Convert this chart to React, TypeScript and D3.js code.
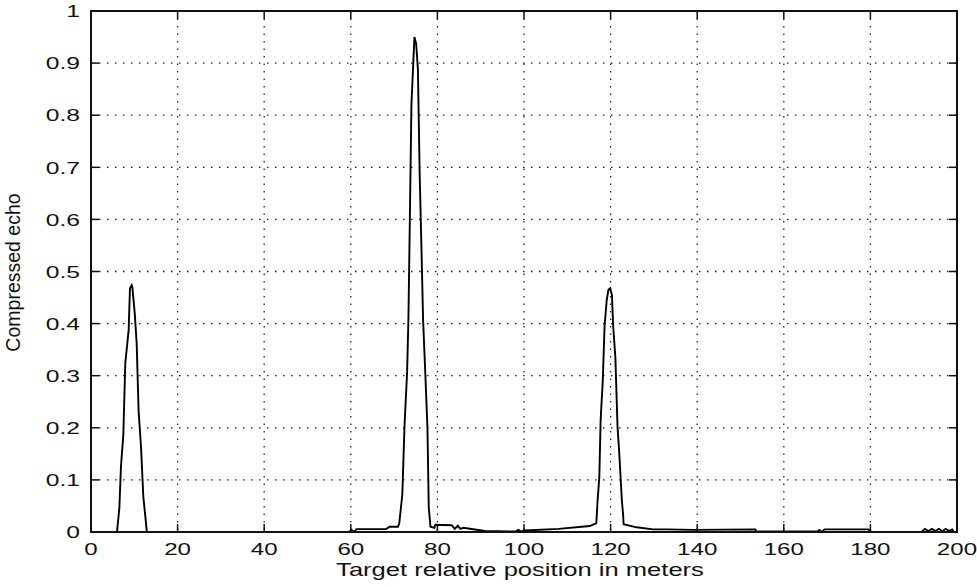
import React from "react";
import * as d3 from "d3";

// ---- data ----
const positions = [
  0, 6.0, 6.54, 6.93, 7.46, 7.92, 8.7, 9.0, 9.4, 9.55, 10.1, 10.55, 11.0, 11.55, 12.08, 12.7, 12.9,
  59.5, 60.2, 60.8, 61.3, 68.1, 69.0, 70.9,
  71.2, 71.9, 72.4, 73.0, 73.3, 73.6, 74.0, 74.4, 74.7, 75.1, 75.5, 75.9, 76.3, 76.7, 77.2, 77.7, 78.0, 78.4,
  79.3, 79.5, 83.3, 84.0, 84.7, 85.3, 86.0, 91.0, 98.0, 98.7, 99.4, 100.2, 108, 115.2,
  116.7, 117.0, 117.4, 117.7, 118.2, 118.6, 119.1, 119.5, 119.9, 120.3, 120.6, 121.1, 121.6, 122.0, 122.6, 122.9,
  123.0, 126.0, 129.8, 133.0, 139.0, 153.4, 153.8, 154.2, 167.8, 168.2, 168.8, 169.4, 179.5, 180.2,
  191.8, 192.6, 193.4, 194.2, 195.0, 195.8, 196.6, 197.4, 198.2, 198.9, 199.3, 200,
];
const echo = [
  0, 0, 0.045, 0.127, 0.186, 0.324, 0.388, 0.468, 0.474, 0.47, 0.42, 0.362, 0.231, 0.164, 0.068, 0.017, 0,
  0, 0.004, 0, 0.0055, 0.0055, 0.01, 0.01,
  0.017, 0.072, 0.203, 0.306, 0.406, 0.578, 0.82, 0.895, 0.95, 0.937, 0.888, 0.689, 0.551, 0.406, 0.306, 0.2, 0.048, 0.01,
  0.008, 0.014, 0.013, 0.006, 0.012, 0.006, 0.008, 0.002, 0.001, 0.004, 0.001, 0.003, 0.006, 0.0115,
  0.017, 0.061, 0.106, 0.215, 0.292, 0.394, 0.445, 0.465, 0.468, 0.455, 0.394, 0.336, 0.202, 0.151, 0.061, 0.032,
  0.015, 0.009, 0.005, 0.005, 0.004, 0.005, 0, 0.001, 0.001, 0.004, 0, 0.005, 0.005, 0,
  0, 0.006, 0.002, 0.006, 0.002, 0.006, 0.002, 0.006, 0.002, 0.005, 0, 0,
];
const xTicks = [0, 20, 40, 60, 80, 100, 120, 140, 160, 180, 200];
const yTicks = [0, 0.1, 0.2, 0.3, 0.4, 0.5, 0.6, 0.7, 0.8, 0.9, 1];
const yTickLabels = ["0", "0.1", "0.2", "0.3", "0.4", "0.5", "0.6", "0.7", "0.8", "0.9", "1"];
const xLabel = "Target relative position in meters";
const yLabel = "Compressed echo";

const W = 977;
const H = 587;
const L = 91, R = 957, T = 11, B = 532;
const FONT = "'Liberation Sans', Arial, Helvetica, sans-serif";
const INK = "#111";

function SText(props: {
  x: number; y: number; sx?: number; sy?: number; rot?: number;
  anchor?: string; size: number; children: React.ReactNode;
}) {
  const { x, y, sx = 1, sy = 1, rot = 0, anchor = "start", size, children } = props;
  return (
    <g transform={`translate(${x},${y}) rotate(${rot}) scale(${sx},${sy})`}>
      <text textAnchor={anchor as any} fontSize={size} fontFamily={FONT} fill={INK}>
        {children}
      </text>
    </g>
  );
}

export default function App() {
  const x = d3.scaleLinear().domain([0, 200]).range([L, R]);
  const y = d3.scaleLinear().domain([0, 1]).range([B, T]);
  const pts: [number, number][] = positions.map((p, i) => [p, echo[i]]);
  const line = d3
    .line<[number, number]>()
    .x((d) => x(d[0]))
    .y((d) => y(d[1]));
  const tickLen = 8;

  return (
    <svg
      width={W}
      height={H}
      style={{ position: "absolute", left: 0, top: 0, background: "#fff" }}
    >
      <rect x={0} y={0} width={W} height={H} fill="#fff" />
      {/* grid */}
      {xTicks.slice(1, -1).map((t) => (
        <line
          key={"gx" + t}
          x1={x(t)} x2={x(t)} y1={T} y2={B}
          stroke="#222" strokeWidth={1.3} strokeDasharray="1.5 6"
        />
      ))}
      {yTicks.slice(1, -1).map((t) => (
        <line
          key={"gy" + t}
          x1={L} x2={R} y1={y(t)} y2={y(t)}
          stroke="#222" strokeWidth={1.3} strokeDasharray="1.5 6.5"
        />
      ))}
      {/* ticks */}
      {xTicks.map((t) => (
        <g key={"tx" + t}>
          <line x1={x(t)} x2={x(t)} y1={B} y2={B - tickLen} stroke={INK} strokeWidth={1.5} />
          <line x1={x(t)} x2={x(t)} y1={T} y2={T + tickLen} stroke={INK} strokeWidth={1.5} />
        </g>
      ))}
      {yTicks.map((t) => (
        <g key={"ty" + t}>
          <line x1={L} x2={L + tickLen} y1={y(t)} y2={y(t)} stroke={INK} strokeWidth={1.5} />
          <line x1={R} x2={R - tickLen} y1={y(t)} y2={y(t)} stroke={INK} strokeWidth={1.5} />
        </g>
      ))}
      {/* data */}
      <path d={line(pts) || ""} fill="none" stroke="#000" strokeWidth={1.9} strokeLinejoin="miter" />
      {/* axes box */}
      <rect x={L} y={T} width={R - L} height={B - T} fill="none" stroke={INK} strokeWidth={2} />
      {/* tick labels */}
      {yTicks.map((t, i) => (
        <SText key={"ly" + t} x={80} y={y(t) + 6.2} sx={1.45} anchor="end" size={17}>
          {yTickLabels[i]}
        </SText>
      ))}
      {xTicks.map((t) => (
        <SText key={"lx" + t} x={x(t)} y={555} sx={1.42} anchor="middle" size={17}>
          {String(t)}
        </SText>
      ))}
      <SText x={520} y={576} sx={1.42} anchor="middle" size={18}>
        {xLabel}
      </SText>
      <SText x={20} y={272.5} rot={-90} anchor="middle" size={19.5}>
        {yLabel}
      </SText>
    </svg>
  );
}
